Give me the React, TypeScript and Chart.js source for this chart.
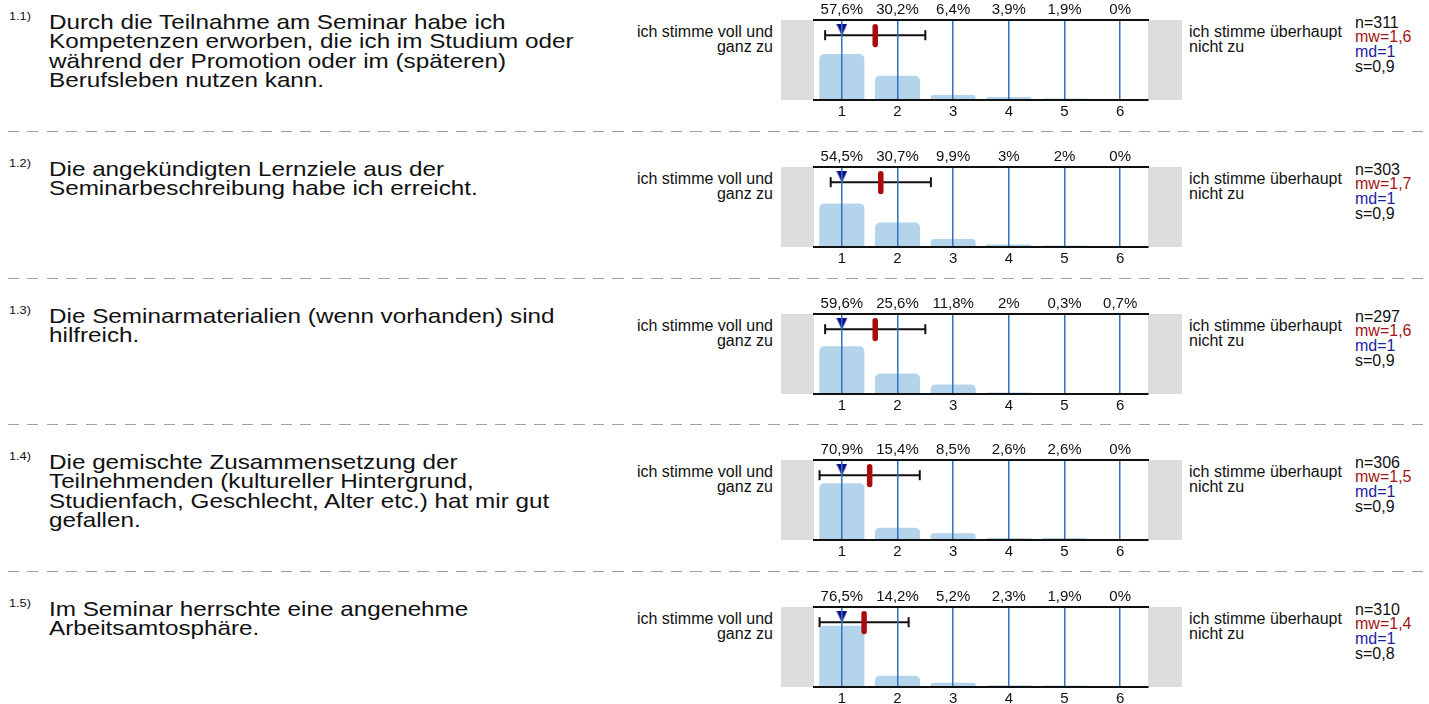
import React, { useEffect, useRef } from 'react';
import { Chart, registerables } from 'chart.js';

Chart.register(...registerables);

const FONT = '"Liberation Sans", Arial, Helvetica, sans-serif';

// ---------- data ----------
const questionNumbers = ['1.1)', '1.2)', '1.3)', '1.4)', '1.5)'];
const questionLines: string[][] = [
  [
    'Durch die Teilnahme am Seminar habe ich',
    'Kompetenzen erworben, die ich im Studium oder',
    'während der Promotion oder im (späteren)',
    'Berufsleben nutzen kann.',
  ],
  ['Die angekündigten Lernziele aus der', 'Seminarbeschreibung habe ich erreicht.'],
  ['Die Seminarmaterialien (wenn vorhanden) sind', 'hilfreich.'],
  [
    'Die gemischte Zusammensetzung der',
    'Teilnehmenden (kultureller Hintergrund,',
    'Studienfach, Geschlecht, Alter etc.) hat mir gut',
    'gefallen.',
  ],
  ['Im Seminar herrschte eine angenehme', 'Arbeitsamtosphäre.'],
];

const scaleCategories = ['1', '2', '3', '4', '5', '6'];

const pctQ1 = [57.6, 30.2, 6.4, 3.9, 1.9, 0];
const pctQ2 = [54.5, 30.7, 9.9, 3, 2, 0];
const pctQ3 = [59.6, 25.6, 11.8, 2, 0.3, 0.7];
const pctQ4 = [70.9, 15.4, 8.5, 2.6, 2.6, 0];
const pctQ5 = [76.5, 14.2, 5.2, 2.3, 1.9, 0];
const distributions = [pctQ1, pctQ2, pctQ3, pctQ4, pctQ5];

const nValues = [311, 303, 297, 306, 310];
const meanValues = [1.6, 1.7, 1.6, 1.5, 1.4];
const medianValues = [1, 1, 1, 1, 1];
const sdValues = [0.9, 0.9, 0.9, 0.9, 0.8];

const leftPole = ['ich stimme voll und', 'ganz zu'];
const rightPole = ['ich stimme überhaupt', 'nicht zu'];

// ---------- helpers / layout ----------
const fmt = (v: number) => String(v).replace('.', ',');

const ROW_TOP0 = 20.3;
const ROW_PITCH = 146.7;
const rowTop = (i: number) => Math.round(ROW_TOP0 + i * ROW_PITCH);

const CANVAS_LEFT = 780;
const CANVAS_W = 402;
const TOP_AXIS_H = 20;
const PLOT_H = 80;
const BOTTOM_AXIS_H = 17;
const CANVAS_H = TOP_AXIS_H + PLOT_H + BOTTOM_AXIS_H;
const SIDE = 34;

const TEXT = '#111111';
const STRETCH = 'scaleX(1.155)';

const poleBoxes = {
  id: 'poleBoxes',
  beforeDraw(chart: any) {
    const { ctx, chartArea } = chart;
    const { left, right, top, bottom } = chartArea;
    ctx.save();
    ctx.fillStyle = '#dddddd';
    ctx.fillRect(left - 33, top, 33, bottom - top);
    ctx.fillRect(right, top, 34, bottom - top);
    ctx.restore();
  },
};

function makeTriangle(): HTMLCanvasElement {
  const c = document.createElement('canvas');
  c.width = 11;
  c.height = 12;
  const g = c.getContext('2d')!;
  g.fillStyle = '#0c0c8a';
  g.beginPath();
  g.moveTo(0, 0);
  g.lineTo(11, 0);
  g.lineTo(5.5, 12);
  g.closePath();
  g.fill();
  return c;
}

function RowChart({ idx }: { idx: number }) {
  const ref = useRef<HTMLCanvasElement | null>(null);

  useEffect(() => {
    if (!ref.current) return;
    const pct = distributions[idx];
    const m = meanValues[idx];
    const s = sdValues[idx];
    const md = medianValues[idx];
    const pctLabels = pct.map((v) => fmt(v) + '%');
    const tickFont = { family: FONT, size: 15 };

    const chart = new Chart(ref.current, {
      type: 'bar',
      data: {
        labels: scaleCategories,
        datasets: [
          {
            type: 'line',
            data: [{ x: md, y: 88 }],
            xAxisID: 'xv',
            yAxisID: 'y',
            showLine: false,
            pointStyle: makeTriangle(),
            pointRadius: 6,
            order: 0,
          } as any,
          {
            type: 'line',
            data: [
              { x: m, y: 91.5 },
              { x: m, y: 69.5 },
            ],
            xAxisID: 'xv',
            yAxisID: 'y',
            borderColor: '#a80c0c',
            borderWidth: 5.5,
            borderCapStyle: 'round',
            pointRadius: 0,
            order: 1,
          } as any,
          {
            type: 'line',
            data: [
              { x: m - s, y: 81 },
              { x: m + s, y: 81 },
            ],
            xAxisID: 'xv',
            yAxisID: 'y',
            borderColor: '#111111',
            borderWidth: 2,
            pointStyle: 'line',
            pointRotation: 90,
            pointRadius: 5,
            pointBorderColor: '#111111',
            pointBorderWidth: 2,
            order: 2,
          } as any,
          {
            type: 'bar',
            data: pct,
            xAxisID: 'x',
            yAxisID: 'y',
            backgroundColor: '#b4d4eb',
            borderRadius: { topLeft: 5, topRight: 5, bottomLeft: 0, bottomRight: 0 },
            borderSkipped: 'bottom',
            grouped: false,
            barPercentage: 0.81,
            categoryPercentage: 1,
            order: 3,
          } as any,
        ],
      },
      options: {
        animation: false,
        responsive: false,
        devicePixelRatio: 1,
        events: [],
        layout: { padding: { left: SIDE, right: SIDE, top: 0, bottom: 0 } },
        plugins: { legend: { display: false }, tooltip: { enabled: false } },
        scales: {
          x: {
            type: 'category',
            position: 'bottom',
            offset: true,
            grid: { display: true, offset: false, color: '#2f72bd', lineWidth: 1.5, drawTicks: false, z: 1 },
            border: { display: true, color: '#111111', width: 2, z: 1 },
            ticks: { color: TEXT, font: tickFont, padding: 3, maxRotation: 0, autoSkip: false },
            afterFit: (sc: any) => {
              sc.height = BOTTOM_AXIS_H;
            },
          },
          x2: {
            type: 'category',
            position: 'top',
            labels: pctLabels,
            offset: true,
            grid: { display: false, drawTicks: false },
            border: { display: true, color: '#111111', width: 2, z: 1 },
            ticks: { color: TEXT, font: tickFont, padding: 1, maxRotation: 0, autoSkip: false },
            afterFit: (sc: any) => {
              sc.height = TOP_AXIS_H;
            },
          },
          xv: {
            type: 'linear',
            display: false,
            offset: false,
            grid: { offset: false },
            min: 0.5,
            max: 6.5,
          },
          y: { type: 'linear', display: false, min: 0, max: 100 },
        } as any,
      },
      plugins: [poleBoxes],
    });
    return () => chart.destroy();
  }, [idx]);

  return (
    <canvas
      ref={ref}
      width={CANVAS_W}
      height={CANVAS_H}
      style={{
        position: 'absolute',
        left: CANVAS_LEFT,
        top: rowTop(idx) - TOP_AXIS_H,
        width: CANVAS_W,
        height: CANVAS_H,
        display: 'block',
      }}
    />
  );
}

function Row({ idx }: { idx: number }) {
  const t = rowTop(idx);
  return (
    <>
      <div
        style={{
          position: 'absolute',
          left: 8.5,
          top: t - 9.5,
          fontSize: 11,
          lineHeight: '11px',
          whiteSpace: 'nowrap',
          transform: STRETCH,
          transformOrigin: '0 0',
          color: TEXT,
        }}
      >
        {questionNumbers[idx]}
      </div>
      <div
        style={{
          position: 'absolute',
          left: 49,
          top: t - 8,
          fontSize: 21,
          lineHeight: '19.3px',
          whiteSpace: 'nowrap',
          transform: STRETCH,
          transformOrigin: '0 0',
          color: TEXT,
        }}
      >
        {questionLines[idx].map((l, k) => (
          <div key={k}>{l}</div>
        ))}
      </div>
      <div
        style={{
          position: 'absolute',
          right: 1429 - 773,
          top: t + 3.8,
          fontSize: 16,
          lineHeight: '15px',
          whiteSpace: 'nowrap',
          textAlign: 'right',
          color: TEXT,
        }}
      >
        {leftPole.map((l, k) => (
          <div key={k}>{l}</div>
        ))}
      </div>
      <RowChart idx={idx} />
      <div
        style={{
          position: 'absolute',
          left: 1189,
          top: t + 3.8,
          fontSize: 16,
          lineHeight: '15px',
          whiteSpace: 'nowrap',
          color: TEXT,
        }}
      >
        {rightPole.map((l, k) => (
          <div key={k}>{l}</div>
        ))}
      </div>
      <div
        style={{
          position: 'absolute',
          left: 1355,
          top: t - 4.5,
          fontSize: 16,
          lineHeight: '14.8px',
          whiteSpace: 'nowrap',
        }}
      >
        <div style={{ color: TEXT }}>n={nValues[idx]}</div>
        <div style={{ color: '#a31515' }}>mw={fmt(meanValues[idx])}</div>
        <div style={{ color: '#1c22a0' }}>md={fmt(medianValues[idx])}</div>
        <div style={{ color: TEXT }}>s={fmt(sdValues[idx])}</div>
      </div>
      {idx < questionNumbers.length - 1 && (
        <div
          style={{
            position: 'absolute',
            left: 8,
            top: rowTop(idx + 1) - 36,
            width: 1421,
            height: 1,
            background: 'repeating-linear-gradient(to right, #a0a0a0 0 11px, transparent 11px 19.5px)',
          }}
        />
      )}
    </>
  );
}

export default function App() {
  return (
    <div
      style={{
        position: 'absolute',
        left: 0,
        top: 0,
        width: 1429,
        height: 704,
        overflow: 'hidden',
        background: '#ffffff',
        fontFamily: FONT,
      }}
    >
      {questionNumbers.map((_, i) => (
        <Row key={i} idx={i} />
      ))}
    </div>
  );
}
